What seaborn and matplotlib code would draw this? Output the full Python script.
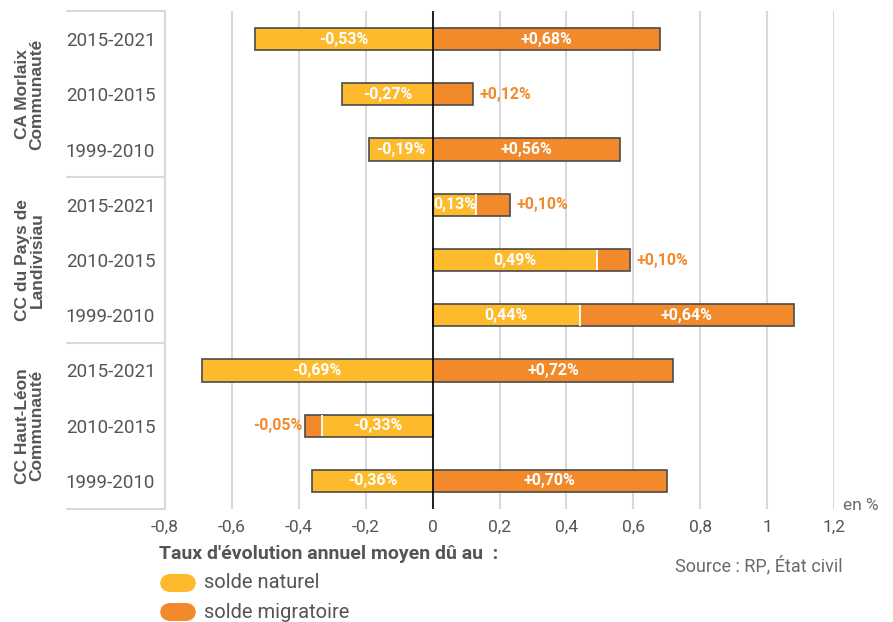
import numpy as np
import pandas as pd
import matplotlib
matplotlib.use("Agg")
import matplotlib.pyplot as plt
from matplotlib.patches import FancyBboxPatch
import matplotlib.transforms as mtransforms
import seaborn as sns

# ---- data ----
groups = ["CA Morlaix\nCommunauté", "CC du Pays de\nLandivisiau", "CC Haut-Léon\nCommunauté"]
periods = ["2015-2021", "2010-2015", "1999-2010"]
naturel = [-0.53, -0.27, -0.19, 0.13, 0.49, 0.44, -0.69, -0.33, -0.36]
migratoire = [0.68, 0.12, 0.56, 0.10, 0.10, 0.64, 0.72, -0.05, 0.70]
x_ticks = [-0.8, -0.6, -0.4, -0.2, 0, 0.2, 0.4, 0.6, 0.8, 1, 1.2]
x_tick_labels = ["-0,8", "-0,6", "-0,4", "-0,2", "0", "0,2", "0,4", "0,6", "0,8", "1", "1,2"]

YELLOW = "#FDBA2C"
ORANGE = "#F28A2B"
EDGE = "#4a4a4a"
GRID = "#d9d9d9"
TXT = "#555555"

rows = []
for gi, g in enumerate(groups):
    for pi, p in enumerate(periods):
        i = gi * 3 + pi
        n, m = naturel[i], migratoire[i]
        same = np.sign(n) == np.sign(m)
        rows.append(dict(row=f"{g}|{p}", group=g, period=p, naturel=n, migr=m,
                         same=same, orange_ext=(n + m) if same else m))
df = pd.DataFrame(rows)

sns.set_theme(style="white")
plt.rcParams["font.family"] = ["Roboto", "DejaVu Sans"]

W, H = 893, 622
fig = plt.figure(figsize=(W / 100, H / 100), dpi=100)
ax_left, ax_right = 165 / W, 834 / W
ax_top, ax_bot = 1 - 11.4 / H, 1 - 508.6 / H
ax = fig.add_axes([ax_left, ax_bot, ax_right - ax_left, ax_top - ax_bot])

sns.barplot(data=df, x="orange_ext", y="row", color=ORANGE, width=0.4, linewidth=0,
            saturation=1, errorbar=None, ax=ax, zorder=2)
sns.barplot(data=df, x="naturel", y="row", color=YELLOW, width=0.4, linewidth=0,
            saturation=1, errorbar=None, ax=ax, zorder=2.5)

pos = np.arange(len(df))
lo = np.minimum(0, np.minimum(df["naturel"], df["orange_ext"]))
hi = np.maximum(0, np.maximum(df["naturel"], df["orange_ext"]))
ax.barh(pos, hi - lo, left=lo, height=0.4, fill=False, edgecolor=EDGE, linewidth=1.2, zorder=3)
for i, r in df.iterrows():
    if r["same"]:
        ax.vlines(r["naturel"], i - 0.19, i + 0.19, color="white", lw=1.3, zorder=3.5)

ax.axvline(0, color="black", lw=1.2, zorder=4)

def fmt(v, sign=False):
    s = f"{v:+.2f}" if sign else f"{v:.2f}"
    return s.replace(".", ",") + "%"

lab_kw = dict(fontsize=11.5, fontweight="bold", va="center", zorder=5)
for i, r in df.iterrows():
    n, m = r["naturel"], r["migr"]
    ax.text(n / 2, i, fmt(n), color="white", ha="center", **lab_kw)
    if r["same"]:
        m0, m1 = n, n + m
    else:
        m0, m1 = 0, m
    if abs(m) <= 0.12:
        if m1 >= 0:
            ax.annotate(fmt(m, True), (m1, i), xytext=(5, 0), textcoords="offset points",
                        color=ORANGE, ha="left", **lab_kw)
        else:
            ax.annotate(fmt(m, True), (m1, i), xytext=(-2, 0), textcoords="offset points",
                        color=ORANGE, ha="right", **lab_kw)
    else:
        ax.text((m0 + m1) / 2, i, fmt(m, True), color="white", ha="center", **lab_kw)

ax.set_xlim(-0.8, 1.2)
ax.set_ylim(8.5, -0.5)
ax.set_xticks(x_ticks)
ax.set_xticklabels(x_tick_labels)
ax.set_yticks(pos)
ax.set_yticklabels(df["period"])
ax.set_xlabel("")
ax.set_ylabel("")
ax.tick_params(axis="y", length=0, pad=7, labelsize=13.5, labelcolor=TXT)
ax.tick_params(axis="x", length=0, pad=8, labelsize=12.5, labelcolor=TXT)
for t in ax.get_xticklabels():
    t.set_x(t.get_position()[0])
ax.grid(axis="x", color=GRID, lw=1.5, zorder=0)
ax.grid(axis="y", visible=False)
ax.set_axisbelow(True)
for s in ax.spines.values():
    s.set_visible(False)

# group separators and labels
ytr = mtransforms.blended_transform_factory(ax.transAxes, ax.transData)
x_sep0 = (67 - 165) / (834 - 165)
for y in [-0.5, 2.5, 5.5, 8.5]:
    ax.plot([x_sep0, 0], [y, y], color=GRID, lw=1.5, transform=ytr, clip_on=False)
ax.plot([0, 0], [-0.5, 8.5], color=GRID, lw=1.5, transform=ytr, clip_on=False)
x_grp = (30 - 165) / (834 - 165)
for gi, g in enumerate(groups):
    ax.text(x_grp, gi * 3 + 1, g, transform=ytr, rotation=90, ha="center", va="center",
            multialignment="center", fontsize=12.5, fontweight="bold", color=TXT,
            family=["Liberation Sans", "DejaVu Sans"], linespacing=0.95)

# unit
fig.text(843 / W, 1 - 505 / H, "en %", fontsize=12.5, color="#6a6a6a", ha="left", va="center")

# legend
fig.text(159 / W, 1 - 554 / H, "Taux d'évolution annuel moyen dû au  :", fontsize=14,
         fontweight="bold", color=TXT, ha="left", va="center")
for yc, col, lab in [(583, YELLOW, "solde naturel"), (612, ORANGE, "solde migratoire")]:
    p = FancyBboxPatch((160 / W, 1 - (yc + 9) / H), 36 / W, 18 / H,
                       boxstyle="round,pad=0,rounding_size=0.012",
                       transform=fig.transFigure, facecolor=col, edgecolor="none",
                       mutation_aspect=W / H)
    fig.patches.append(p)
    fig.text(204 / W, 1 - yc / H, lab, fontsize=14.5, color=TXT, ha="left", va="center")

fig.text(843 / W, 1 - 566 / H, "Source : RP, État civil", fontsize=13, color="#6a6a6a",
         ha="right", va="center")

fig.savefig("out.png", dpi=100)
